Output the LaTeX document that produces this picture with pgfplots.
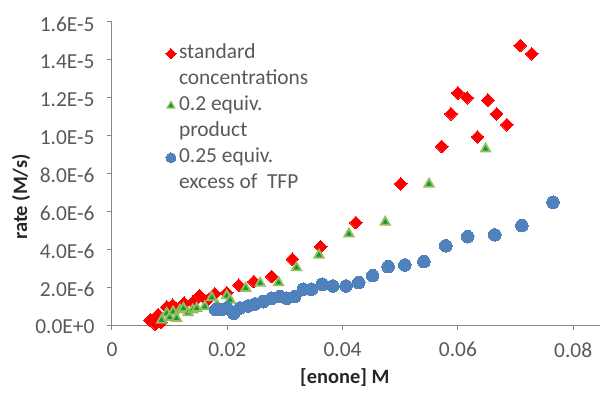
\documentclass[border=0pt]{standalone}
\usepackage{fontspec}
\setmainfont{Carlito}
\usepackage{pgfplots}
\pgfplotsset{compat=1.18}
\definecolor{axgray}{HTML}{868686}
\definecolor{txtgray}{HTML}{595959}
\definecolor{xred}{HTML}{FF0000}
\definecolor{xgreen}{HTML}{00A040}
\definecolor{xlgreen}{HTML}{9BBB59}
\definecolor{xblue}{HTML}{4F81BD}
\begin{document}
\begin{tikzpicture}
\begin{axis}[
  scale only axis, width=488bp, height=303bp,
  xmin=0, xmax=0.08465, ymin=0, ymax=1.6e-5,
  axis x line*=bottom, axis y line*=left,
  axis line style={axgray, line width=1bp, -},
  xtick={0,0.02,0.04,0.06,0.08},
  xticklabels={0,0.02,0.04,0.06,0.08},
  ytick={0,2e-6,4e-6,6e-6,8e-6,1e-5,1.2e-5,1.4e-5,1.6e-5},
  yticklabels={0.0E+0,2.0E-6,4.0E-6,6.0E-6,8.0E-6,1.0E-5,1.2E-5,1.4E-5,1.6E-5},
  scaled y ticks=false, scaled x ticks=false,
  tick align=outside, major tick length=5bp,
  tick style={axgray, line width=1bp},
  ticklabel style={font=\fontsize{21.5}{25}\selectfont, text=txtgray},
  yticklabel style={xshift=-9bp, yshift=-2bp},
  xticklabel style={yshift=-9bp},
  xlabel={\textbf{[enone] M}}, ylabel={\textbf{rate (M/s)}},
  label style={font=\fontsize{20.5}{24}\selectfont, text=black!85},
  xlabel style={at={(axis description cs:0.477,-0.175)}, anchor=center},
  ylabel style={at={(axis description cs:-0.1865,0.4224)}, anchor=center},
  legend cell align=left,
  legend style={at={(axis description cs:0.103,0.932)}, anchor=north west,
    draw=none, fill=none, inner sep=0pt, row sep=4bp, column sep=2bp,
    font=\fontsize{21.5}{25}\selectfont, text=txtgray,
    nodes={inner sep=1bp, text height=15bp, text depth=5bp}},
]
\addplot[only marks, mark=square*, mark size=4.5bp, mark options={rotate=45, fill=xred, draw=xred, line width=0pt},
  legend image post style={mark size=3.6bp}] coordinates {
(0.0066,0.25e-6) (0.0075,0.05e-6) (0.0080,0.55e-6) (0.0085,0.15e-6)
(0.0095,0.95e-6) (0.0105,1.05e-6) (0.0112,0.85e-6) (0.0125,1.15e-6)
(0.0140,1.20e-6) (0.0152,1.55e-6) (0.0165,1.30e-6) (0.0178,1.65e-6)
(0.0199,1.70e-6) (0.0220,2.10e-6) (0.0246,2.29e-6) (0.0277,2.56e-6)
(0.0313,3.48e-6) (0.0362,4.14e-6) (0.0423,5.41e-6) (0.0501,7.46e-6)
(0.0572,9.43e-6) (0.0588,1.115e-5) (0.0600,1.226e-5) (0.0616,1.200e-5)
(0.0634,0.993e-5) (0.0652,1.187e-5) (0.0667,1.115e-5) (0.0685,1.058e-5)
(0.0708,1.476e-5) (0.0728,1.432e-5)
};
\addlegendentry{standard}
\addlegendimage{legend image code/.code={}}
\addlegendentry{concentrations}
\addplot[only marks, mark=triangle*, mark size=5.3bp, mark options={fill=xgreen, draw=xlgreen, line width=1.8bp},
  legend image post style={mark size=4.3bp, mark options={fill=xgreen, draw=xlgreen, line width=1.2bp}}] coordinates {
(0.0086,0.26e-6) (0.0095,0.62e-6) (0.0100,0.40e-6) (0.0106,0.70e-6)
(0.0112,0.35e-6) (0.0118,0.80e-6) (0.0124,0.88e-6) (0.0132,0.65e-6)
(0.0140,0.80e-6) (0.0147,0.88e-6) (0.0161,0.97e-6) (0.0173,1.45e-6)
(0.0182,1.06e-6) (0.0199,1.55e-6) (0.0205,1.32e-6) (0.0232,1.94e-6)
(0.0257,2.21e-6) (0.0289,2.24e-6) (0.0320,3.03e-6) (0.0359,3.69e-6)
(0.0411,4.81e-6) (0.0474,5.43e-6) (0.0550,7.44e-6) (0.0648,9.30e-6)
};
\addlegendentry{0.2 equiv.}
\addlegendimage{legend image code/.code={}}
\addlegendentry{product}
\addplot[only marks, mark=*, mark size=6.3bp, mark options={fill=xblue, draw=xblue, line width=0pt},
  legend image post style={mark size=5bp}] coordinates {
(0.0180,0.81e-6) (0.0190,0.82e-6) (0.0199,0.90e-6) (0.0211,0.62e-6)
(0.0222,0.90e-6) (0.0236,1.00e-6) (0.0248,1.11e-6) (0.0262,1.23e-6)
(0.0277,1.41e-6) (0.0291,1.50e-6) (0.0303,1.41e-6) (0.0317,1.50e-6)
(0.0332,1.89e-6) (0.0346,1.89e-6) (0.0365,2.15e-6) (0.0383,2.06e-6)
(0.0406,2.06e-6) (0.0428,2.24e-6) (0.0452,2.61e-6) (0.0479,3.08e-6)
(0.0508,3.17e-6) (0.0541,3.35e-6) (0.0579,4.18e-6) (0.0617,4.66e-6)
(0.0664,4.76e-6) (0.0711,5.25e-6) (0.0765,6.48e-6)
};
\addlegendentry{0.25 equiv.}
\addlegendimage{legend image code/.code={}}
\addlegendentry{excess of\ \ TFP}
\end{axis}
\pgfresetboundingbox
\useasboundingbox (-112bp,-69bp) rectangle (490bp,325bp);
\end{tikzpicture}
\end{document}
